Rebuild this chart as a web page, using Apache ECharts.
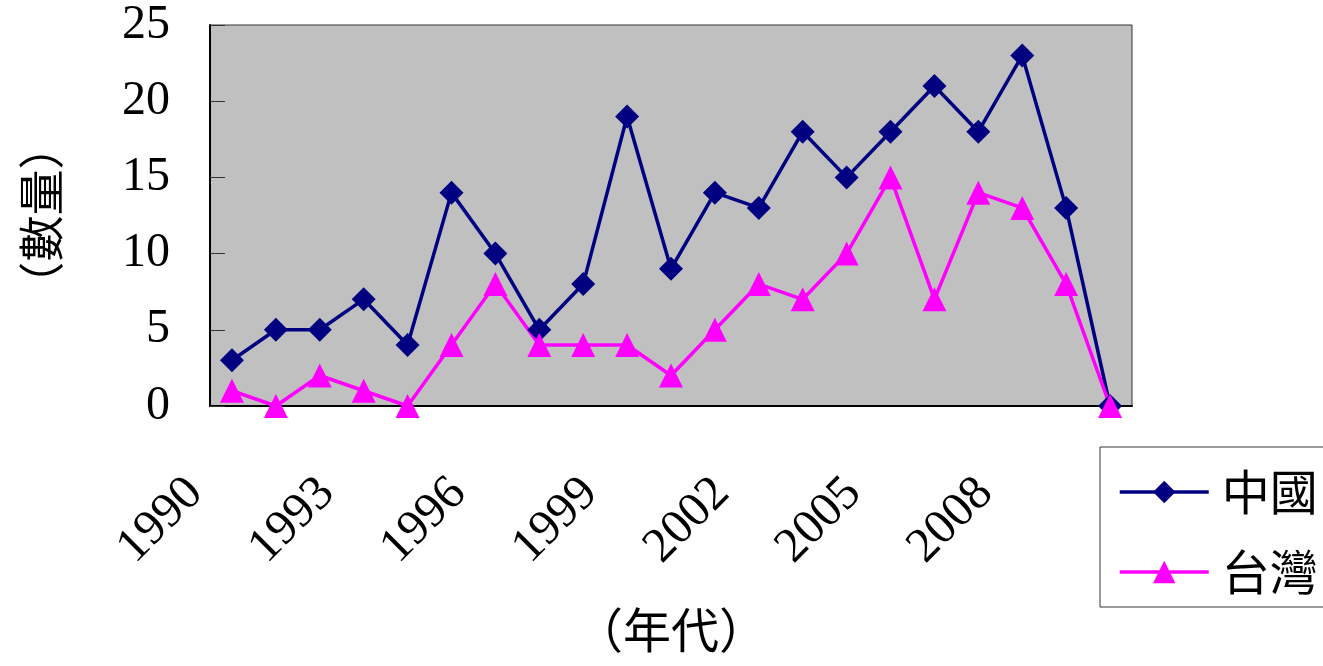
<!DOCTYPE html>
<html>
<head>
<meta charset="utf-8">
<style>
  html, body { margin: 0; padding: 0; background: #fff; }
  #chart { width: 1323px; height: 666px; }
</style>
<script src="https://cdn.jsdelivr.net/npm/echarts@6/dist/echarts.min.js"></script>
</head>
<body>
<div id="chart"></div>
<script>
// 年份
const years = ['1990', '1991', '1992', '1993', '1994', '1995', '1996', '1997', '1998', '1999', '2000',
  '2001', '2002', '2003', '2004', '2005', '2006', '2007', '2008', '2009', '2010'];
// 中國
const chinaData = [3, 5, 5, 7, 4, 14, 10, 5, 8, 19, 9, 14, 13, 18, 15, 18, 21, 18, 23, 13, 0];
// 台灣
const taiwanData = [1, 0, 2, 1, 0, 4, 8, 4, 4, 4, 2, 5, 8, 7, 10, 15, 7, 14, 13, 8, 0];

const serif = '"Liberation Serif", "Times New Roman", serif';
const cjk = '"Noto Sans CJK TC", "Noto Sans CJK SC", sans-serif';

const myChart = echarts.init(document.getElementById('chart'));
const option = {
  animation: false,
  grid: {
    left: 210,
    top: 25,
    right: 191,
    bottom: 260,
    show: true,
    backgroundColor: '#C0C0C0',
    borderColor: '#333',
    borderWidth: 1
  },
  legend: {
    orient: 'vertical',
    left: 1100,
    top: 447,
    padding: [17, 12, 7, 18],
    itemGap: 24,
    itemWidth: 89,
    itemHeight: 28,
    borderColor: '#333',
    borderWidth: 1,
    backgroundColor: '#fff',
    lineStyle: { width: 3.5 },
    textStyle: {
      fontFamily: cjk,
      fontSize: 48,
      lineHeight: 56,
      color: '#000',
      padding: [0, 0, 0, 8]
    },
    data: ['中國', '台灣']
  },
  xAxis: {
    type: 'category',
    data: years,
    name: '（年代）',
    nameLocation: 'middle',
    nameGap: 200,
    nameTextStyle: { fontFamily: cjk, fontSize: 48, color: '#000' },
    axisLine: { lineStyle: { color: '#000', width: 2 } },
    axisTick: { inside: true, length: 13, interval: 0, lineStyle: { color: '#333' } },
    axisLabel: {
      interval: 2,
      rotate: 45,
      margin: 43,
      padding: [0, 52, 0, 0],
      fontFamily: serif,
      fontSize: 49,
      color: '#000'
    }
  },
  yAxis: {
    type: 'value',
    min: 0,
    max: 25,
    interval: 5,
    name: '（數量）',
    nameLocation: 'middle',
    nameRotate: 90,
    nameGap: 146,
    nameTextStyle: { fontFamily: cjk, fontSize: 46, color: '#000' },
    splitLine: { show: false },
    axisLine: { show: true, lineStyle: { color: '#000', width: 2 } },
    axisTick: { show: true, inside: true, length: 15, lineStyle: { color: '#333' } },
    axisLabel: { margin: 40, fontFamily: serif, fontSize: 48, color: '#000' }
  },
  series: [
    {
      name: '中國',
      type: 'line',
      data: chinaData,
      clip: false,
      symbol: 'diamond',
      symbolSize: 24,
      color: '#000080',
      lineStyle: { color: '#000080', width: 3.5 },
      itemStyle: { color: '#000080' }
    },
    {
      name: '台灣',
      type: 'line',
      data: taiwanData,
      clip: false,
      symbol: 'triangle',
      symbolSize: 24,
      color: '#FF00FF',
      lineStyle: { color: '#FF00FF', width: 3.5 },
      itemStyle: { color: '#FF00FF' }
    }
  ]
};
myChart.setOption(option);
</script>
</body>
</html>
